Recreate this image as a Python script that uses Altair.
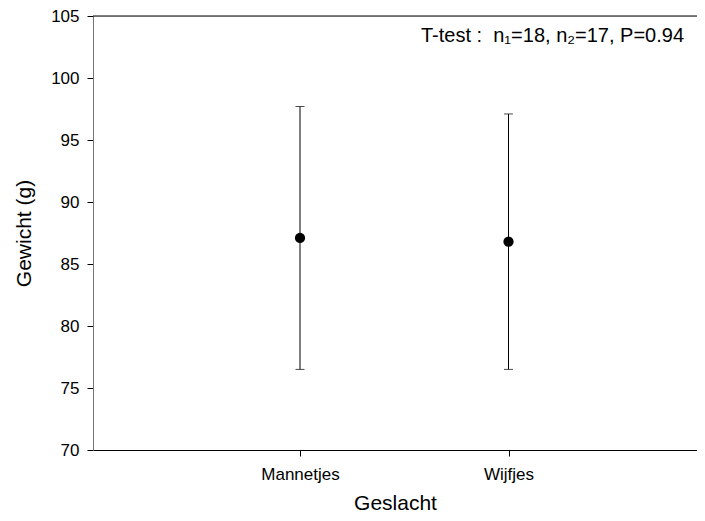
import altair as alt
import pandas as pd

geslacht = ["Mannetjes", "Wijfjes"]
gemiddelde = [87.1, 86.8]
boven = [97.7, 97.1]
onder = [76.5, 76.5]
y_ticks = [70, 75, 80, 85, 90, 95, 100, 105]
annotatie = "T-test :\u00a0 n\u2081=18, n\u2082=17, P=0.94"

df = pd.DataFrame({"Geslacht": geslacht, "Gemiddelde": gemiddelde,
                   "Boven": boven, "Onder": onder})

W = 604
H = 434
FONT = "Liberation Sans"

xenc = alt.X("Geslacht:N", sort=geslacht,
             scale=alt.Scale(type="point", padding=0.9484, align=0.5234),
             axis=alt.Axis(title="Geslacht", labelAngle=0, tickSize=6,
                           labelPadding=10, titlePadding=10,
                           labelFontSize=17, titleFontSize=21,
                           domainColor="black", tickColor="black",
                           labelColor="black", titleColor="black",
                           titleFontWeight="normal", grid=False))
yscale = alt.Scale(domain=[70, 105], zero=False, nice=False)
yaxis = alt.Axis(title="Gewicht (g)", values=y_ticks, tickSize=6,
                 labelPadding=8, titlePadding=16,
                 labelFontSize=17, titleFontSize=21,
                 domainColor="#777", tickColor="black",
                 labelColor="black", titleColor="black",
                 titleFontWeight="normal", grid=False)

base = alt.Chart(df)

bars = base.mark_rule(color="black", strokeWidth=1).encode(
    x=xenc,
    y=alt.Y("Onder:Q", scale=yscale, axis=yaxis),
    y2="Boven:Q",
)
cap_hi = base.mark_tick(color="black", size=9, thickness=1).encode(
    x=xenc, y=alt.Y("Boven:Q", scale=yscale))
cap_lo = base.mark_tick(color="black", size=9, thickness=1).encode(
    x=xenc, y=alt.Y("Onder:Q", scale=yscale))
dots = base.mark_circle(color="black", opacity=1, size=105).encode(
    x=xenc, y=alt.Y("Gemiddelde:Q", scale=yscale))

top = alt.Chart(pd.DataFrame({"y": [105]})).mark_rule(
    color="black", strokeWidth=1).encode(
    y=alt.Y("y:Q", scale=yscale), x=alt.value(0), x2=alt.value(W))

txt = alt.Chart(pd.DataFrame({"t": [annotatie]})).mark_text(
    align="left", baseline="alphabetic", fontSize=20, font=FONT,
    color="black").encode(
    text="t:N", x=alt.value(328), y=alt.value(26))

chart = alt.layer(bars, cap_hi, cap_lo, dots, top, txt).properties(
    width=W, height=H,
    autosize=alt.AutoSizeParams(type="none"),
    padding={"left": 85, "top": 8, "right": 0, "bottom": 63},
).configure_view(stroke="transparent").configure(font=FONT)

chart.save("out.html", embed_options={"renderer": "svg", "actions": False})
